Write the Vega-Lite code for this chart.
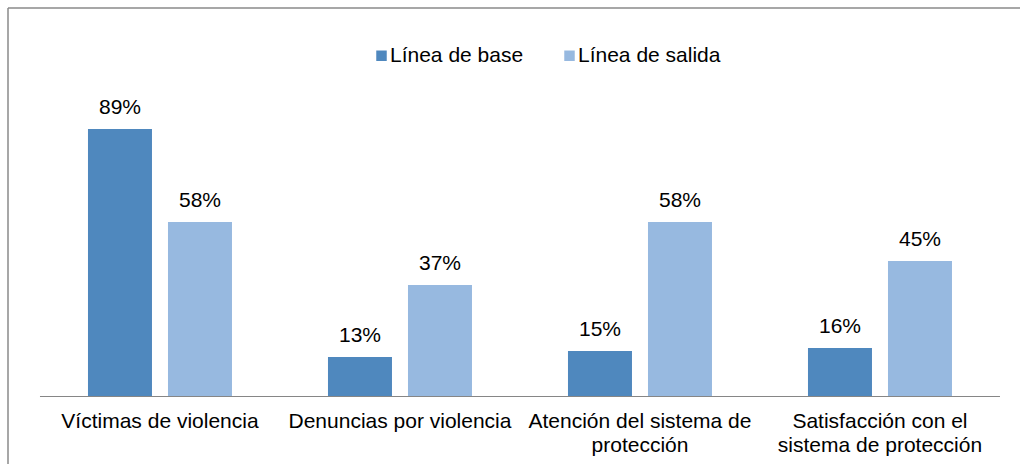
{
  "$schema": "https://vega.github.io/schema/vega-lite/v6.json",
  "width": 1012,
  "height": 456,
  "autosize": {"type": "none"},
  "padding": {"left": 8, "top": 8, "right": 0, "bottom": 0},
  "background": "white",
  "config": {
    "view": {"stroke": "#8a8a8a", "strokeWidth": 1.5, "strokeDash": [1012, 1468, 456, 0]},
    "font": "Liberation Sans"
  },
  "datasets": {
    "bars": [
      {"cat": "Víctimas de violencia", "serie": "Línea de base", "val": 89, "txt": "89%"},
      {"cat": "Víctimas de violencia", "serie": "Línea de salida", "val": 58, "txt": "58%"},
      {"cat": "Denuncias por violencia", "serie": "Línea de base", "val": 13, "txt": "13%"},
      {"cat": "Denuncias por violencia", "serie": "Línea de salida", "val": 37, "txt": "37%"},
      {"cat": "Atención del sistema de protección", "serie": "Línea de base", "val": 15, "txt": "15%"},
      {"cat": "Atención del sistema de protección", "serie": "Línea de salida", "val": 58, "txt": "58%"},
      {"cat": "Satisfacción con el sistema de protección", "serie": "Línea de base", "val": 16, "txt": "16%"},
      {"cat": "Satisfacción con el sistema de protección", "serie": "Línea de salida", "val": 45, "txt": "45%"}
    ],
    "cats": [
      {"cat": "Víctimas de violencia", "label": "Víctimas de violencia"},
      {"cat": "Denuncias por violencia", "label": "Denuncias por violencia"},
      {"cat": "Atención del sistema de protección", "label": "Atención del sistema de\nprotección"},
      {"cat": "Satisfacción con el sistema de protección", "label": "Satisfacción con el\nsistema de protección"}
    ]
  },
  "resolve": {"scale": {"x": "shared", "y": "shared"}},
  "layer": [
    {
      "data": {"name": "cats"},
      "mark": {"type": "bar", "color": "#868686"},
      "encoding": {
        "x": {"field": "cat", "type": "nominal", "axis": null,
          "scale": {"domain": ["Víctimas de violencia", "Denuncias por violencia", "Atención del sistema de protección", "Satisfacción con el sistema de protección"], "paddingInner": 0, "paddingOuter": 0.10833, "align": 0.615}},
        "y": {"datum": 0, "type": "quantitative", "axis": null,
          "scale": {"domain": [-22.667, 129.333], "nice": false, "zero": false}},
        "y2": {"datum": -0.34}
      }
    },
    {
      "data": {"name": "bars"},
      "mark": {"type": "bar"},
      "encoding": {
        "x": {"field": "cat", "type": "nominal", "axis": null},
        "xOffset": {"field": "serie", "type": "nominal",
          "scale": {"domain": ["Línea de base", "Línea de salida"], "paddingInner": 0.2, "paddingOuter": 0.6}},
        "y": {"field": "val", "type": "quantitative"},
        "y2": {"datum": 0},
        "color": {"field": "serie", "type": "nominal",
          "scale": {"domain": ["Línea de base", "Línea de salida"], "range": ["#4F88BE", "#97B9E0"]},
          "legend": {"orient": "none", "legendX": 363, "legendY": 37, "direction": "horizontal", "title": null,
            "symbolType": "square", "symbolSize": 110, "symbolStrokeWidth": 0, "labelFontSize": 21, "labelColor": "#000000",
            "labelOffset": -2, "columnPadding": 35, "labelFont": "Liberation Sans"}}
      }
    },
    {
      "data": {"name": "bars"},
      "mark": {"type": "text", "fontSize": 21, "dy": -15, "baseline": "alphabetic", "color": "#000000"},
      "encoding": {
        "x": {"field": "cat", "type": "nominal", "axis": null},
        "xOffset": {"field": "serie", "type": "nominal"},
        "y": {"field": "val", "type": "quantitative"},
        "text": {"field": "txt"}
      }
    },
    {
      "data": {"name": "cats"},
      "mark": {"type": "text", "fontSize": 21, "baseline": "top", "lineBreak": "\n", "lineHeight": 24, "color": "#000000"},
      "encoding": {
        "x": {"field": "cat", "type": "nominal", "axis": null},
        "y": {"datum": -5, "type": "quantitative"},
        "text": {"field": "label"}
      }
    }
  ]
}
